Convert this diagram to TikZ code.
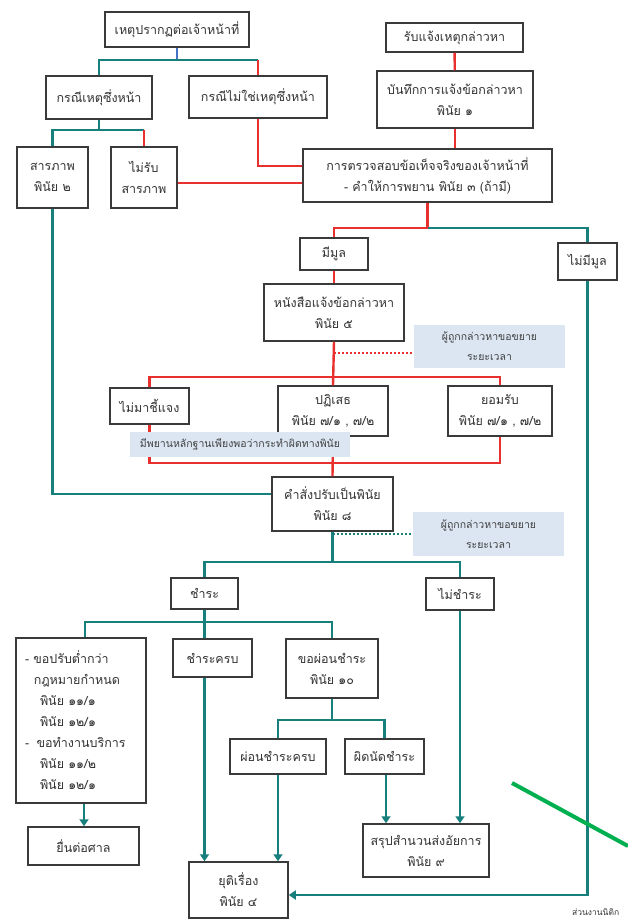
\documentclass[tikz,border=0pt]{standalone}
\usepackage{fontspec}
\newfontfamily\thaifont[Script=Thai]{Loma}
\usetikzlibrary{arrows.meta}
\definecolor{redln}{HTML}{E8302E}
\definecolor{tealln}{HTML}{17807D}
\definecolor{blueln}{HTML}{4472C4}
\definecolor{greenln}{HTML}{00B050}
\definecolor{notefill}{HTML}{DCE6F2}
\definecolor{boxdraw}{HTML}{3A3A3A}
\tikzset{
      box/.style={draw=boxdraw, line width=1.5, fill=white, align=center, inner sep=2pt,
            text=black!80, font=\thaifont\fontsize{12.5}{21}\selectfont},
      note/.style={fill=notefill, align=center, inner sep=2pt,
            text=black!75, font=\thaifont\fontsize{10.5}{20}\selectfont},
      redline/.style={draw=redln, line width=2.4},
      tealline/.style={draw=tealln, line width=2.4},
      tealarrow/.style={draw=tealln, line width=2.4, -{Triangle[length=7,width=9]}},
      reddots/.style={draw=redln, line width=2, dotted},
      tealdots/.style={draw=tealln, line width=2, dotted},
}

\begin{document}
\begin{tikzpicture}[x=1pt,y=-1pt]
        \fill[white] (0,0) rectangle (628,923);
        \useasboundingbox (0,0) rectangle (628,923);

        % Draw the boxes
        \node[box, minimum width=144, minimum height=35] (incident) at (177,29.5) {เหตุปรากฏต่อเจ้าหน้าที่};
        \node[box, minimum width=137, minimum height=29] (report) at (454.5,37.5) {รับแจ้งเหตุกล่าวหา};
        \node[box, minimum width=156, minimum height=57] (record) at (455,99.5) {บันทึกการแจ้งข้อกล่าวหา\\พินัย ๑};
        \node[box, minimum width=106, minimum height=43] (flagrant) at (99,97.5) {กรณีเหตุซึ่งหน้า};
        \node[box, minimum width=138, minimum height=42] (noflagrant) at (258,97) {กรณีไม่ใช่เหตุซึ่งหน้า};
        \node[box, minimum width=71, minimum height=61] (confess) at (52.5,177.5) {สารภาพ\\พินัย ๒};
        \node[box, minimum width=66, minimum height=61] (noconfess) at (144,177.5) {ไม่รับ\\สารภาพ};
        \node[box, minimum width=249, minimum height=53] (inquiry) at (427.5,175.5) {การตรวจสอบข้อเท็จจริงของเจ้าหน้าที่\\- คำให้การพยาน พินัย ๓ (ถ้ามี)};
        \node[box, minimum width=68, minimum height=32] (grounds) at (334,254) {มีมูล};
        \node[box, minimum width=59, minimum height=37] (nogrounds) at (587.5,261.5) {ไม่มีมูล};
        \node[box, minimum width=140, minimum height=57] (notice) at (334,312.5) {หนังสือแจ้งข้อกล่าวหา\\พินัย ๕};
        \node[box, minimum width=79, minimum height=36] (absent) at (149.5,406) {ไม่มาชี้แจง};
        \node[box, minimum width=110, minimum height=50] (deny) at (333,411) {ปฏิเสธ\\พินัย ๗/๑ , ๗/๒};
        \node[box, minimum width=104, minimum height=50] (admit) at (500,411) {ยอมรับ\\พินัย ๗/๑ , ๗/๒};
        \node[box, minimum width=121, minimum height=54] (order) at (332.5,504) {คำสั่งปรับเป็นพินัย\\พินัย ๘};
        \node[box, minimum width=67, minimum height=31] (pay) at (204.5,593.5) {ชำระ};
        \node[box, minimum width=68, minimum height=32] (nopay) at (460,594) {ไม่ชำระ};
        \node[box, minimum width=130, minimum height=165, text width=112, align=left] (reduce) at (81,720.5)
              {-~ขอปรับต่ำกว่า\\\hspace*{0.7em}กฎหมายกำหนด\\\hspace*{1.2em}พินัย ๑๑/๑\\\hspace*{1.2em}พินัย ๑๒/๑\\-\hspace*{0.6em}ขอทำงานบริการ\\\hspace*{1.2em}พินัย ๑๑/๒\\\hspace*{1.2em}พินัย ๑๒/๑};
        \node[box, minimum width=79, minimum height=38] (paid) at (212.5,658) {ชำระครบ};
        \node[box, minimum width=92, minimum height=59] (instal) at (332,668.5) {ขอผ่อนชำระ\\พินัย ๑๐};
        \node[box, minimum width=96, minimum height=35] (instpaid) at (278,756.5) {ผ่อนชำระครบ};
        \node[box, minimum width=79, minimum height=35] (default) at (384.5,756.5) {ผิดนัดชำระ};
        \node[box, minimum width=111, minimum height=38] (court) at (83.5,846) {ยื่นต่อศาล};
        \node[box, minimum width=126, minimum height=53] (prosecutor) at (426,850.5) {สรุปสำนวนส่งอัยการ\\พินัย ๙};
        \node[box, minimum width=99, minimum height=56] (closed) at (238.5,890) {ยุติเรื่อง\\พินัย ๔};

        \coordinate (top) at (177,60);
        \coordinate (flagsplit) at (99,130);
        \coordinate (fork) at (427.5,228);
        \coordinate (replies) at (334,377);
        \coordinate (finding) at (333,463);
        \coordinate (payfork) at (332.5,562);
        \coordinate (payways) at (204.5,622);
        \coordinate (instfork) at (332,720);

        % Draw the upper lines
        \draw[draw=blueln, line width=2.4] (incident.south -| top) -- (top);
        \draw[tealline] (top) -| (flagrant.north);
        \draw[tealline] (top) -- (top -| noflagrant);
        \draw[redline] (top -| noflagrant) -- (noflagrant.north);
        \draw[tealline] (flagrant.south) -- (flagsplit);
        \draw[tealline] (flagsplit) -| (confess.north);
        \draw[tealline] (flagsplit) -- (flagsplit -| noconfess);
        \draw[redline] (flagsplit -| noconfess) -- (noconfess.north);
        \draw[redline] ([yshift=-5.5]noconfess.east) -- ([yshift=-5.5]noconfess.east -| inquiry.west);
        \draw[redline] (noflagrant.south) |- ([yshift=9.5]inquiry.west);
        \draw[redline] (report) -- (record);
        \draw[redline] (record.south) -- (record.south |- inquiry.north);
        \draw[redline] (inquiry.south) -- (fork) -| (grounds.north);
        \draw[tealline] (fork) -| (nogrounds.north);
        \draw[redline] (grounds) -- (notice);

        % Draw the reply lines
        \draw[redline] (notice.south) -- (deny.north);
        \draw[redline] (absent.north) |- (replies) -| (admit.north);
        \draw[redline] (absent.south) |- (finding) -| (admit.south);
        \draw[redline] (deny.south) -- (order.north);
        \draw[reddots] ([yshift=-6.5]notice.south |- 0,346.5) -- (414,353);
        \draw[tealline] (confess.south) |- ([yshift=10]order.west);

        % Draw the payment lines
        \draw[tealline] (order.south) -- (payfork);
        \draw[tealline] (pay.north) |- (payfork) -| (nopay.north);
        \draw[tealdots] (order.south |- 0,534) -- (413,534);
        \draw[tealline] (pay.south) -- (pay.south |- paid.north);
        \draw[tealline] (reduce.north -| 85,0) |- (payways) -| (instal.north);
        \draw[tealarrow] (pay.south |- paid.south) -- (pay.south |- closed.north);
        \draw[tealline] (instal.south) -- (instfork);
        \draw[tealline] (instpaid.north) |- (instfork) -| (default.north);
        \draw[tealarrow] (instpaid.south) -- (instpaid.south |- closed.north);
        \draw[tealarrow] (default.south -| 386,0) -- (386,0 |- prosecutor.north);
        \draw[tealarrow] (nopay.south) -- (nopay.south |- prosecutor.north);
        \draw[tealarrow] (reduce.south -| 84,0) -- (84,0 |- court.north);
        \draw[tealarrow] (nogrounds.south) |- ([yshift=-5]closed.east);

        % Draw the notes on top
        \node[note, minimum width=151, minimum height=43] (extend) at (489.5,346.5) {ผู้ถูกกล่าวหาขอขยาย\\ระยะเวลา};
        \node[note, minimum width=220, minimum height=25] (evidence) at (240,444.5) {มีพยานหลักฐานเพียงพอว่ากระทำผิดทางพินัย};
        \node[note, minimum width=151, minimum height=44] (extendb) at (488.5,534) {ผู้ถูกกล่าวหาขอขยาย\\ระยะเวลา};

        \draw[draw=greenln, line width=4] (512,783) -- (628,846);
        \node[anchor=west, inner sep=0, text=black!80, font=\thaifont\fontsize{8.5}{10}\selectfont] (unit) at (572,912) {ส่วนงานนิติก};
\end{tikzpicture}
\end{document}
